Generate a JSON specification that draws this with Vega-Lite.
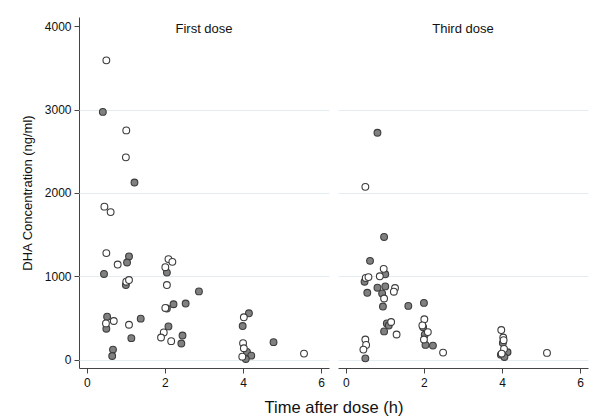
{
  "$schema": "https://vega.github.io/schema/vega-lite/v6.json",
  "background": "white",
  "padding": {"left": 21, "top": 17, "right": 5, "bottom": 5},
  "datasets": {
    "pts": [
      {"dose": "First dose", "group": "open", "time": 0.50, "conc": 3590},
      {"dose": "First dose", "group": "open", "time": 1.01, "conc": 2750},
      {"dose": "First dose", "group": "open", "time": 1.00, "conc": 2427},
      {"dose": "First dose", "group": "open", "time": 0.45, "conc": 1835},
      {"dose": "First dose", "group": "open", "time": 0.61, "conc": 1770},
      {"dose": "First dose", "group": "open", "time": 0.50, "conc": 1278},
      {"dose": "First dose", "group": "open", "time": 0.79, "conc": 1141},
      {"dose": "First dose", "group": "filled", "time": 1.00, "conc": 895},
      {"dose": "First dose", "group": "open", "time": 1.01, "conc": 935},
      {"dose": "First dose", "group": "open", "time": 1.08, "conc": 955},
      {"dose": "First dose", "group": "filled", "time": 0.52, "conc": 516},
      {"dose": "First dose", "group": "filled", "time": 0.50, "conc": 371},
      {"dose": "First dose", "group": "open", "time": 0.49, "conc": 435},
      {"dose": "First dose", "group": "open", "time": 0.69, "conc": 464},
      {"dose": "First dose", "group": "open", "time": 1.08, "conc": 419},
      {"dose": "First dose", "group": "filled", "time": 0.41, "conc": 2972},
      {"dose": "First dose", "group": "filled", "time": 1.22, "conc": 2125},
      {"dose": "First dose", "group": "filled", "time": 0.44, "conc": 1028},
      {"dose": "First dose", "group": "filled", "time": 1.08, "conc": 1238},
      {"dose": "First dose", "group": "filled", "time": 1.03, "conc": 1165},
      {"dose": "First dose", "group": "filled", "time": 0.67, "conc": 121},
      {"dose": "First dose", "group": "filled", "time": 0.65, "conc": 44},
      {"dose": "First dose", "group": "filled", "time": 1.38, "conc": 492},
      {"dose": "First dose", "group": "filled", "time": 1.14, "conc": 258},
      {"dose": "First dose", "group": "filled", "time": 2.05, "conc": 1044},
      {"dose": "First dose", "group": "open", "time": 2.01, "conc": 1109},
      {"dose": "First dose", "group": "open", "time": 2.09, "conc": 1206},
      {"dose": "First dose", "group": "open", "time": 2.19, "conc": 1173},
      {"dose": "First dose", "group": "open", "time": 2.05, "conc": 895},
      {"dose": "First dose", "group": "filled", "time": 2.05, "conc": 613},
      {"dose": "First dose", "group": "open", "time": 2.01, "conc": 621},
      {"dose": "First dose", "group": "filled", "time": 2.22, "conc": 665},
      {"dose": "First dose", "group": "filled", "time": 2.53, "conc": 673},
      {"dose": "First dose", "group": "filled", "time": 2.87, "conc": 819},
      {"dose": "First dose", "group": "filled", "time": 2.09, "conc": 399},
      {"dose": "First dose", "group": "open", "time": 1.97, "conc": 327},
      {"dose": "First dose", "group": "open", "time": 1.90, "conc": 266},
      {"dose": "First dose", "group": "open", "time": 2.16, "conc": 222},
      {"dose": "First dose", "group": "filled", "time": 2.45, "conc": 290},
      {"dose": "First dose", "group": "filled", "time": 2.42, "conc": 194},
      {"dose": "First dose", "group": "filled", "time": 4.15, "conc": 556},
      {"dose": "First dose", "group": "open", "time": 4.02, "conc": 508},
      {"dose": "First dose", "group": "filled", "time": 3.99, "conc": 403},
      {"dose": "First dose", "group": "filled", "time": 4.10, "conc": 93},
      {"dose": "First dose", "group": "filled", "time": 4.21, "conc": 48},
      {"dose": "First dose", "group": "filled", "time": 4.07, "conc": 8},
      {"dose": "First dose", "group": "open", "time": 4.00, "conc": 198},
      {"dose": "First dose", "group": "open", "time": 4.02, "conc": 137},
      {"dose": "First dose", "group": "open", "time": 3.98, "conc": 36},
      {"dose": "First dose", "group": "filled", "time": 4.78, "conc": 210},
      {"dose": "First dose", "group": "open", "time": 5.56, "conc": 73},

      {"dose": "Third dose", "group": "filled", "time": 0.81, "conc": 2722},
      {"dose": "Third dose", "group": "open", "time": 0.50, "conc": 2073},
      {"dose": "Third dose", "group": "filled", "time": 0.98, "conc": 1472},
      {"dose": "Third dose", "group": "filled", "time": 0.62, "conc": 1185},
      {"dose": "Third dose", "group": "filled", "time": 0.48, "conc": 935},
      {"dose": "Third dose", "group": "open", "time": 0.51, "conc": 980},
      {"dose": "Third dose", "group": "open", "time": 0.58, "conc": 990},
      {"dose": "Third dose", "group": "filled", "time": 0.55, "conc": 802},
      {"dose": "Third dose", "group": "open", "time": 0.87, "conc": 1000},
      {"dose": "Third dose", "group": "filled", "time": 1.01, "conc": 1024},
      {"dose": "Third dose", "group": "open", "time": 0.97, "conc": 1089},
      {"dose": "Third dose", "group": "filled", "time": 0.81, "conc": 863},
      {"dose": "Third dose", "group": "filled", "time": 1.01, "conc": 879},
      {"dose": "Third dose", "group": "filled", "time": 0.93, "conc": 794},
      {"dose": "Third dose", "group": "open", "time": 0.98, "conc": 734},
      {"dose": "Third dose", "group": "filled", "time": 0.95, "conc": 637},
      {"dose": "Third dose", "group": "open", "time": 1.26, "conc": 859},
      {"dose": "Third dose", "group": "open", "time": 1.23, "conc": 815},
      {"dose": "Third dose", "group": "filled", "time": 1.60, "conc": 645},
      {"dose": "Third dose", "group": "filled", "time": 1.05, "conc": 435},
      {"dose": "Third dose", "group": "filled", "time": 1.10, "conc": 410},
      {"dose": "Third dose", "group": "open", "time": 1.16, "conc": 452},
      {"dose": "Third dose", "group": "filled", "time": 0.98, "conc": 339},
      {"dose": "Third dose", "group": "open", "time": 1.30, "conc": 302},
      {"dose": "Third dose", "group": "open", "time": 0.50, "conc": 242},
      {"dose": "Third dose", "group": "open", "time": 0.52, "conc": 177},
      {"dose": "Third dose", "group": "open", "time": 0.45, "conc": 121},
      {"dose": "Third dose", "group": "filled", "time": 0.50, "conc": 16},
      {"dose": "Third dose", "group": "filled", "time": 2.00, "conc": 681},
      {"dose": "Third dose", "group": "filled", "time": 1.98, "conc": 390},
      {"dose": "Third dose", "group": "open", "time": 2.01, "conc": 484},
      {"dose": "Third dose", "group": "open", "time": 1.96, "conc": 411},
      {"dose": "Third dose", "group": "filled", "time": 2.02, "conc": 300},
      {"dose": "Third dose", "group": "open", "time": 2.10, "conc": 331},
      {"dose": "Third dose", "group": "open", "time": 2.00, "conc": 242},
      {"dose": "Third dose", "group": "filled", "time": 2.04, "conc": 177},
      {"dose": "Third dose", "group": "filled", "time": 2.23, "conc": 169},
      {"dose": "Third dose", "group": "open", "time": 2.49, "conc": 85},
      {"dose": "Third dose", "group": "filled", "time": 4.02, "conc": 200},
      {"dose": "Third dose", "group": "filled", "time": 3.97, "conc": 60},
      {"dose": "Third dose", "group": "filled", "time": 4.14, "conc": 89},
      {"dose": "Third dose", "group": "filled", "time": 4.06, "conc": 32},
      {"dose": "Third dose", "group": "open", "time": 3.98, "conc": 355},
      {"dose": "Third dose", "group": "open", "time": 4.03, "conc": 266},
      {"dose": "Third dose", "group": "open", "time": 4.04, "conc": 234},
      {"dose": "Third dose", "group": "open", "time": 4.05, "conc": 129},
      {"dose": "Third dose", "group": "open", "time": 3.99, "conc": 73},
      {"dose": "Third dose", "group": "open", "time": 5.15, "conc": 81}
    ]
  },
  "data": {"name": "pts"},
  "facet": {
    "column": {
      "field": "dose",
      "type": "nominal",
      "sort": ["First dose", "Third dose"],
      "title": "Time after dose (h)",
      "header": {
        "labelOrient": "top",
        "titleOrient": "bottom",
        "labelFontSize": 13,
        "labelFont": "Liberation Sans",
        "labelColor": "#111",
        "labelPadding": -19,
        "titleFont": "Liberation Sans",
        "titleFontSize": 16.5,
        "titleFontWeight": "normal",
        "titleColor": "#111",
        "titlePadding": 2
      }
    }
  },
  "spacing": 9,
  "spec": {
    "width": 250,
    "height": 351,
    "mark": {"type": "point", "filled": true, "size": 46, "stroke": "#3c3c3c", "strokeWidth": 1.1, "opacity": 1},
    "encoding": {
      "x": {
        "field": "time",
        "type": "quantitative",
        "scale": {"domain": [-0.2, 6.2], "nice": false, "zero": false},
        "axis": {"values": [0, 2, 4, 6], "title": null, "grid": false}
      },
      "y": {
        "field": "conc",
        "type": "quantitative",
        "scale": {"domain": [-100, 4110], "nice": false, "zero": false},
        "axis": {
          "values": [0, 1000, 2000, 3000, 4000],
          "title": "DHA Concentration (ng/ml)",
          "grid": true,
          "format": "d",
          "gridOpacity": {"condition": {"test": "datum.value === 4000", "value": 0}, "value": 1}
        }
      },
      "fill": {
        "field": "group",
        "type": "nominal",
        "scale": {"domain": ["filled", "open"], "range": ["#808080", "#ffffff"]},
        "legend": null
      },
      "order": {"field": "group", "sort": "ascending"}
    }
  },
  "config": {
    "view": {"stroke": null},
    "font": "Liberation Sans",
    "axis": {
      "domainColor": "#444",
      "tickColor": "#444",
      "tickSize": 5,
      "labelColor": "#111",
      "labelFontSize": 12,
      "labelFont": "Liberation Sans",
      "titleFont": "Liberation Sans",
      "titleFontWeight": "normal",
      "titleColor": "#111",
      "gridColor": "#e4eef0",
      "gridWidth": 1
    },
    "axisY": {"titleFontSize": 13, "titlePadding": 10, "labelPadding": 3},
    "axisX": {"labelPadding": 4}
  }
}
